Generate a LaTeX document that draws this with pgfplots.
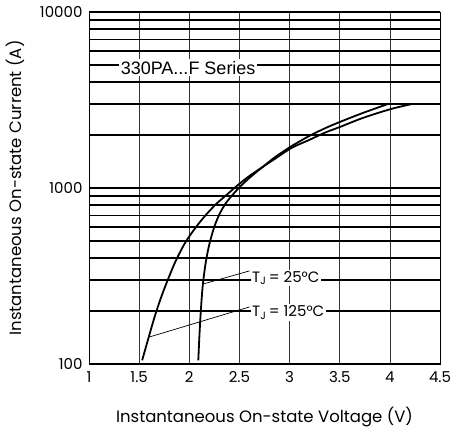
\documentclass[border=0pt]{standalone}
\usepackage{pgfplots}
\pgfplotsset{compat=1.18}
\usepackage{fontspec}
\setmainfont{Poppins}
\newfontfamily\arialfont{Liberation Sans}
\begin{document}
\begin{tikzpicture}
\begin{axis}[
  scale only axis, width=351pt, height=352pt,
  ymode=log, xmin=1, xmax=4.5, ymin=100, ymax=10000,
  xtick={1,1.5,2,2.5,3,3.5,4,4.5},
  xticklabels={1,1.5,2,2.5,3,3.5,4,4.5},
  ytick={100,1000,10000}, yticklabels={100,1000,10000},
  /pgf/number format/assume math mode=true,
  xmajorgrids, ymajorgrids, yminorgrids,
  grid style={black},
  x grid style={black!80, line width=0.6pt},
  y grid style={black, line width=1.3pt},
  major tick length=0pt, minor tick length=0pt,
  axis line style={black, line width=0.8pt},
  tick label style={font=\fontsize{15}{18}\selectfont},
  xticklabel style={yshift=-4pt},
  yticklabel style={xshift=-3pt},
  label style={font=\fontsize{16.5}{19}\selectfont},
  xlabel={Instantaneous On-state Voltage (V)},
  ylabel={Instantaneous On-state Current (A)},
  xlabel style={at={(axis description cs:0.5,-0.15)}, anchor=center},
  ylabel style={at={(axis description cs:-0.211,0.5)}, anchor=center},
]
% TJ = 125 C
\addplot[black, line width=1.8pt, smooth, tension=0.5] coordinates {
(1.53,105) (1.60,145) (1.66,190) (1.72,240) (1.78,295) (1.86,380)
(1.96,490) (2.07,603) (2.17,708) (2.27,813) (2.37,912) (2.47,1023)
(2.59,1160) (2.69,1270) (2.85,1460) (3.02,1690) (3.2,1880) (3.35,2060)
(3.5,2220) (3.73,2500) (4.01,2810) (4.22,3000)};
% TJ = 25 C
\addplot[black, line width=1.8pt, smooth, tension=0.5] coordinates {
(2.09,105) (2.10,141) (2.115,200) (2.135,282) (2.165,380) (2.20,479)
(2.25,603) (2.30,708) (2.36,813) (2.43,912) (2.51,1023) (2.58,1115)
(2.66,1220) (2.72,1300) (2.85,1490) (3.02,1730) (3.2,1980) (3.35,2180)
(3.5,2371) (3.73,2668) (3.98,3000)};
% leader lines
\draw[black, line width=0.7pt] (axis cs:2.14,285) -- (axis cs:2.60,338);
\draw[black, line width=0.7pt] (axis cs:1.595,142) -- (axis cs:2.60,211);
\node[fill=white, inner sep=1.5pt, anchor=base west, font=\fontsize{15}{18}\selectfont]
  at (axis cs:2.61,292) {T\textsubscript{J}\,= 25°C};
\node[fill=white, inner sep=1.5pt, anchor=base west, font=\fontsize{15}{18}\selectfont]
  at (axis cs:2.61,185) {T\textsubscript{J}\,= 125°C};
\node[fill=white, inner sep=1.5pt, anchor=base west, font=\arialfont\fontsize{18}{21}\selectfont]
  at (axis cs:1.30,4443) {330PA...F Series};
\end{axis}
\pgfresetboundingbox
\path ([shift={(-89pt,-68pt)}]current axis.south west) rectangle ([shift={(14pt,12pt)}]current axis.north east);
\end{tikzpicture}
\end{document}
